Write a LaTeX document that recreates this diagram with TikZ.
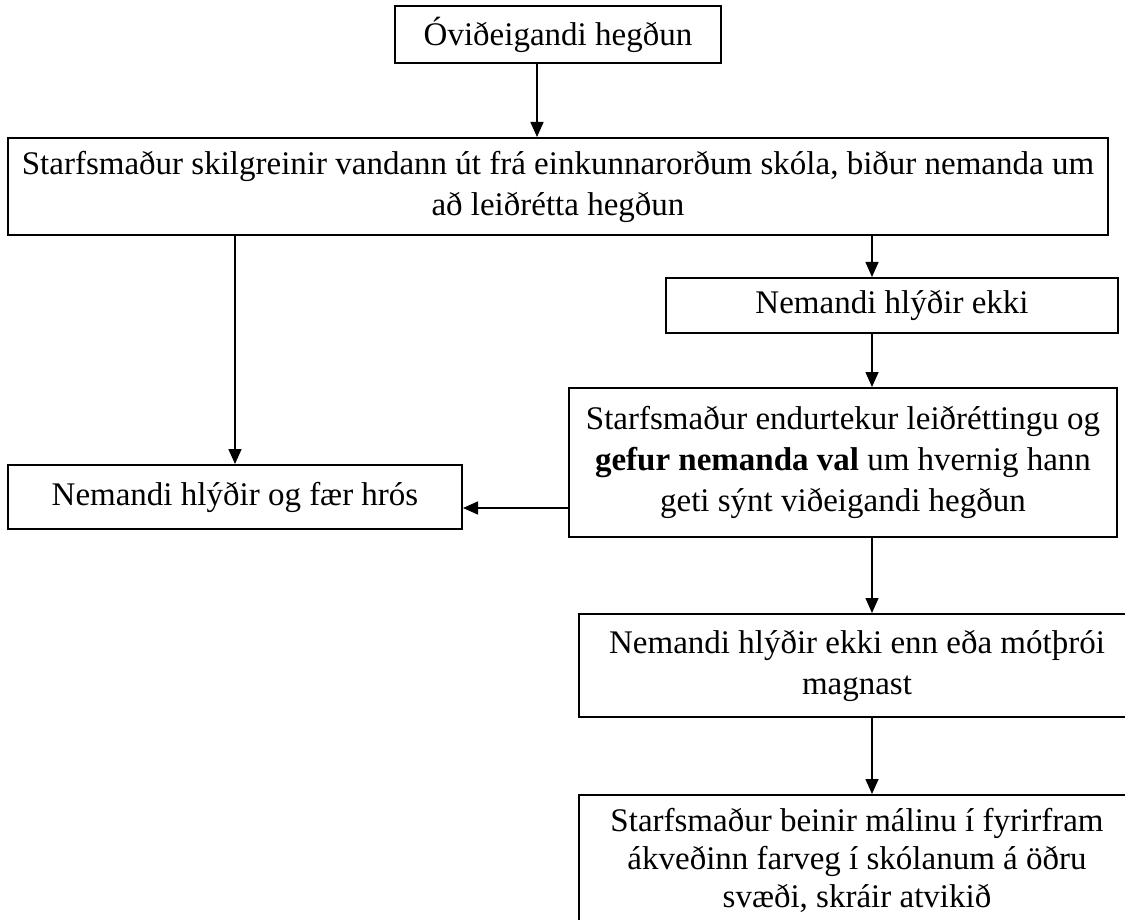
\documentclass[tikz,border=0pt]{standalone}
\usepackage{fontspec}
\setmainfont{Liberation Serif}
\usetikzlibrary{arrows.meta}

\begin{document}
\begin{tikzpicture}[x=1pt,y=-1pt,
    box/.style={draw, line width=2pt, align=center, inner sep=0pt,
        font=\fontsize{33}{41}\selectfont},
    arr/.style={-{Triangle[length=15pt,width=13pt]}, line width=1.6pt}]
    \clip (0,0) rectangle (1125,920);

    \node[box, minimum width=326, minimum height=57] (ovid) at (558,34.5) {Óviðeigandi hegðun};
    \node[box, minimum width=1100, minimum height=97] (skil) at (558,186.5)
        {Starfsmaður skilgreinir vandann út frá einkunnarorðum skóla, biður nemanda um\\
         að leiðrétta hegðun};
    \node[box, minimum width=454, minimum height=64] (hros) at (235,497) {Nemandi hlýðir og fær hrós};
    \node[box, minimum width=452, minimum height=55] (ekki) at (892,305.5) {Nemandi hlýðir ekki};
    \node[box, minimum width=548, minimum height=149] (endurt) at (843,462.5)
        {Starfsmaður endurtekur leiðréttingu og\\
         \textbf{gefur nemanda val} um hvernig hann\\
         geti sýnt viðeigandi hegðun};
    \node[box, minimum width=556, minimum height=103] (enn) at (857,665.5)
        {Nemandi hlýðir ekki enn eða mótþrói\\ magnast};
    \node[box, minimum width=556, minimum height=130, font=\fontsize{33}{38}\selectfont]
        (beinir) at (857,860)
        {Starfsmaður beinir málinu í fyrirfram\\
         ákveðinn farveg í skólanum á öðru\\
         svæði, skráir atvikið};

    % x of the arrows on the right, y of the arrow to the left
    \coordinate (rc) at (872,0);
    \coordinate (lh) at (0,508);

    \draw[arr] ([xshift=-21]ovid.south) -- ([xshift=-21]ovid.south |- skil.north);
    \draw[arr] (hros.north |- skil.south) -- (hros.north);
    \draw[arr] (rc |- skil.south) -- (rc |- ekki.north);
    \draw[arr] (rc |- ekki.south) -- (rc |- endurt.north);
    \draw[arr] (endurt.west |- lh) -- (hros.east |- lh);
    \draw[arr] (rc |- endurt.south) -- (rc |- enn.north);
    \draw[arr] (rc |- enn.south) -- (rc |- beinir.north);
\end{tikzpicture}
\end{document}
